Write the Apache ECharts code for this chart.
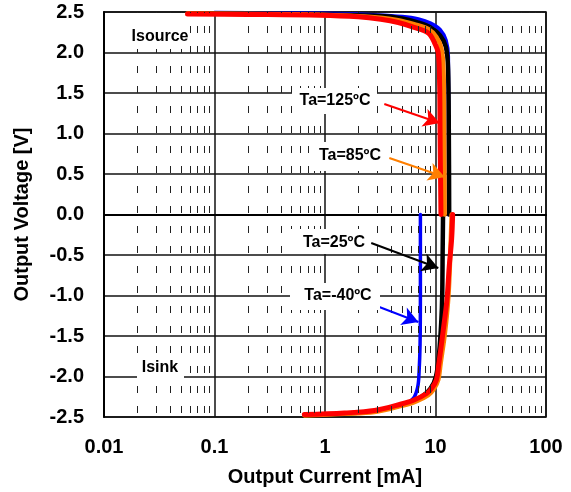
<!DOCTYPE html>
<html>
<head>
<meta charset="utf-8">
<script src="https://cdn.jsdelivr.net/npm/echarts@6/dist/echarts.min.js"></script>
<style>
  html, body { margin: 0; padding: 0; background: #fff; }
  #main { width: 571px; height: 492px; }
</style>
</head>
<body>
<div id="main"></div>
<script>
// tick labels
var xTickLabels = ['0.01', '0.1', '1', '10', '100'];
var minorX = [];
[0.01, 0.1, 1, 10].forEach(function (d) {
  for (var k = 2; k <= 9; k++) minorX.push(+(k * d).toPrecision(3));
});

// source side [mA, V]
var src125 = [[0.057,2.475],[0.2,2.47],[0.9,2.46],[2,2.44],[3.2,2.41],[4.6,2.37],[6.4,2.31],[8.6,2.24],[9.8,2.12],[10.6,1.99],[10.9,1.6],[11.0,1.0],[11.2,0.0]];
var src85  = [[0.057,2.48],[0.9,2.465],[3.2,2.43],[4.6,2.4],[6.4,2.35],[8.6,2.29],[10.2,2.19],[11.3,2.05],[11.8,1.8],[12.0,1.0],[12.1,0.0]];
var src25  = [[0.06,2.485],[0.9,2.47],[3.2,2.45],[5,2.42],[7,2.37],[9,2.31],[11,2.21],[12.4,2.07],[13.0,1.8],[13.2,1.0],[13.3,0.0]];
var srcM40 = [[0.1,2.49],[1,2.48],[3,2.46],[5,2.44],[7,2.41],[9,2.36],[11,2.28],[12.4,2.15],[13.0,1.95],[13.1,1.0],[13.2,0.0]];

// sink side [mA, V]
var snk125 = [[14.3,0],[14.0,-0.3],[13.3,-0.65],[12.7,-1.05],[11.7,-1.45],[10.7,-1.85],[10.2,-2.04],[9.3,-2.14],[8.3,-2.21],[6.4,-2.29],[4.9,-2.34],[2.8,-2.42],[1.5,-2.45],[0.65,-2.47]];
var snk85  = [[14.0,0],[13.6,-0.5],[13.1,-1.0],[12.2,-1.45],[11.1,-1.85],[10.6,-2.04],[9.7,-2.15],[8.6,-2.23],[6.6,-2.31],[5,-2.36],[2.8,-2.44],[1.5,-2.46],[0.65,-2.48]];
var snk25  = [[11.7,0],[11.6,-0.5],[11.5,-1.0],[11.3,-1.3],[10.8,-1.7],[10.1,-2.0],[9.0,-2.15],[7.5,-2.25],[5,-2.35],[3,-2.42],[1.5,-2.46],[0.65,-2.48]];
var snkM40 = [[7.3,0],[7.3,-1.0],[7.25,-1.6],[7.1,-1.95],[6.9,-2.13],[6.3,-2.27],[5.3,-2.34],[3,-2.42],[1.5,-2.46],[0.65,-2.48]];

// annotation arrows: [tail, head]
var arrows = [
  { color: '#ff0000', from: [3.44, 1.364], to: [10.9, 1.13] },
  { color: '#ff7f00', from: [3.82, 0.698], to: [12.1, 0.463] },
  { color: '#000000', from: [2.62, -0.352], to: [10.6, -0.66] },
  { color: '#0000ff', from: [3.1, -1.142], to: [7.0, -1.327] }
];

var FONT = '"Liberation Sans", Arial, sans-serif';

function curve(data, color, width) {
  return {
    type: 'line', data: data, showSymbol: false, smooth: 0.35, z: 3,
    lineStyle: { color: color, width: width, cap: 'round', join: 'round' },
    silent: true, animation: false
  };
}

var series = [
  {
    type: 'line', data: [[1, 0]], showSymbol: false, z: 1, silent: true,
    lineStyle: { opacity: 0 },
    markLine: {
      silent: true, symbol: 'none', label: { show: false }, animation: false,
      lineStyle: { type: [7, 13], dashOffset: 16, color: '#222', width: 1 },
      data: minorX.map(function (v) { return { xAxis: v }; })
    }
  },
  curve(srcM40, '#0000ff', 4),
  curve(snkM40, '#0000ff', 3.5),
  curve(src25, '#000000', 4.5),
  curve(snk25, '#000000', 4.5),
  curve(src85, '#ff7f00', 4.5),
  curve(snk85, '#ff7f00', 4.5),
  curve(src125, '#ff0000', 5),
  curve(snk125, '#ff0000', 5),
  {
    type: 'line', data: [[1, 0]], showSymbol: false, z: 5, silent: true,
    lineStyle: { opacity: 0 },
    markLine: {
      silent: true, label: { show: false }, animation: false,
      symbol: ['none', 'arrow'], symbolSize: [14, 16],
      data: arrows.map(function (a) {
        return [
          { coord: a.from, lineStyle: { color: a.color, width: 2, type: 'solid' } },
          { coord: a.to }
        ];
      })
    }
  }
];

function box(x, y, w, h) {
  return { type: 'rect', shape: { x: x, y: y, width: w, height: h }, style: { fill: '#fff' }, z: 50, silent: true };
}
function label(text, x, y) {
  return { type: 'text', x: x, y: y, z: 51, silent: true,
    style: { text: text, fill: '#000', font: 'bold 16px ' + FONT, align: 'center', verticalAlign: 'middle' } };
}

var chart = echarts.init(document.getElementById('main'));
chart.setOption({
  animation: false,
  grid: { left: 104, right: 25, top: 12, bottom: 75, show: true, borderColor: '#000', borderWidth: 1.5 },
  xAxis: {
    type: 'log', logBase: 10, min: 0.01, max: 100,
    name: 'Output Current [mA]', nameLocation: 'middle', nameGap: 50,
    nameTextStyle: { color: '#000', fontWeight: 'bold', fontSize: 20, fontFamily: FONT },
    axisLine: { show: true, lineStyle: { color: '#000', width: 2 } },
    axisTick: { show: false },
    axisLabel: {
      color: '#000', fontWeight: 'bold', fontSize: 20, fontFamily: FONT, margin: 20,
      formatter: function (v) { return xTickLabels[Math.round(Math.log10(v)) + 2]; }
    },
    splitLine: { show: true, lineStyle: { color: '#111', width: 1.5 } },
    minorTick: { show: false }, minorSplitLine: { show: false }
  },
  yAxis: {
    type: 'value', min: -2.5, max: 2.5, interval: 0.5,
    name: 'Output Voltage [V]', nameLocation: 'middle', nameGap: 72,
    nameTextStyle: { color: '#000', fontWeight: 'bold', fontSize: 20, fontFamily: FONT },
    axisLine: { show: true, lineStyle: { color: '#000', width: 2 } },
    axisTick: { show: false },
    axisLabel: {
      color: '#000', fontWeight: 'bold', fontSize: 20, fontFamily: FONT, margin: 20,
      formatter: function (v) { return v.toFixed(1); }
    },
    splitLine: { show: true, lineStyle: { color: '#111', width: 1.5 } }
  },
  graphic: [
    box(128, 22, 62, 27), label('Isource', 160, 37),
    box(137, 353, 47, 25), label('Isink', 160, 368),
    box(292, 88, 85, 26), label('Ta=125ºC', 335, 101),
    box(313, 142, 72, 29), label('Ta=85ºC', 350, 156),
    box(290, 229, 78, 25), label('Ta=25ºC', 334, 243),
    box(290, 283, 90, 27), label('Ta=-40ºC', 338, 296)
  ],
  series: series
});
</script>
</body>
</html>
